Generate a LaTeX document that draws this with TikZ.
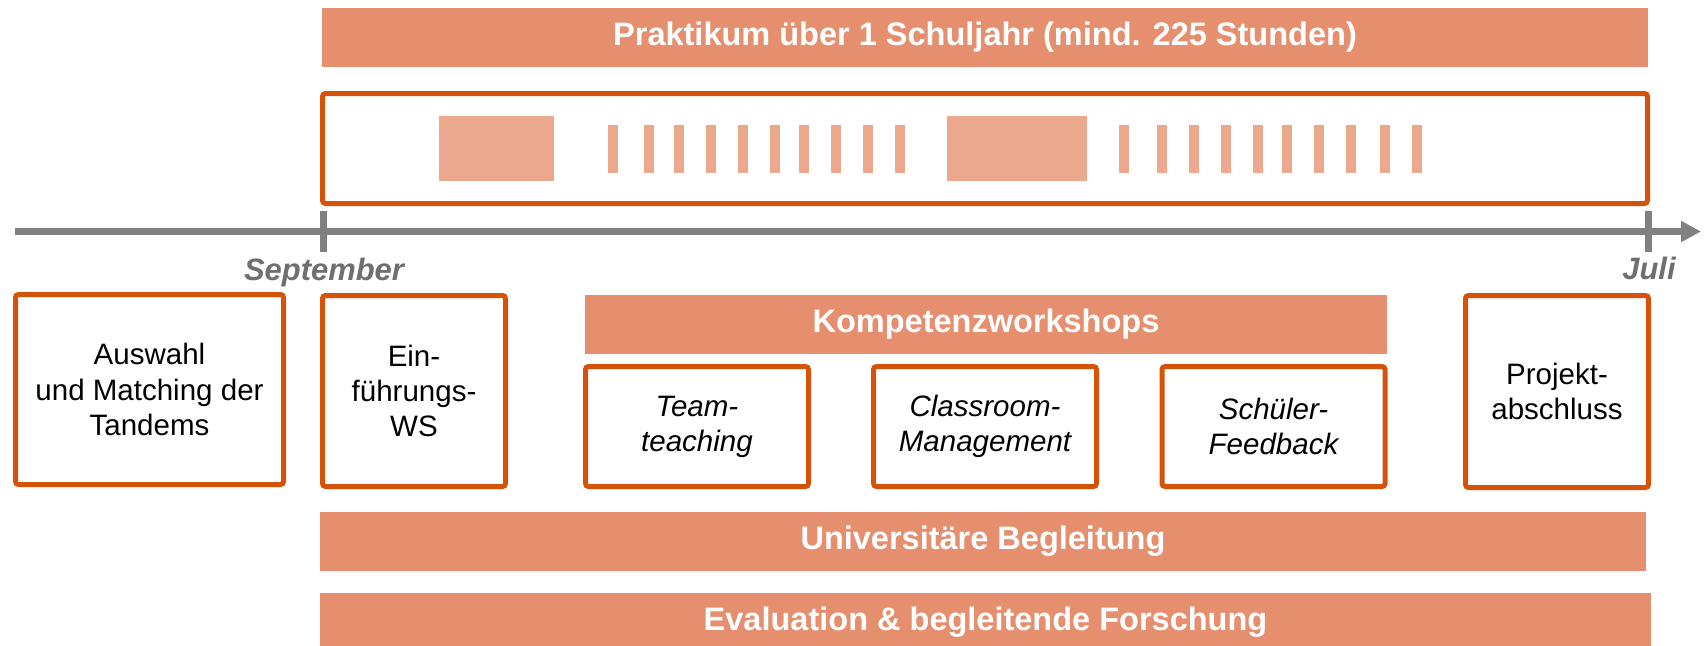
\documentclass[tikz,border=0pt]{standalone}
\usepackage{fontspec}
\setmainfont{Liberation Sans}
\usetikzlibrary{arrows.meta}
\definecolor{rust}{HTML}{D55308}
\definecolor{salmon}{HTML}{E58F6F}
\definecolor{peach}{HTML}{EBA88D}
\definecolor{axisgray}{HTML}{808080}
\definecolor{labelgray}{HTML}{6F6F6F}

\begin{document}
\begin{tikzpicture}[x=0.1mm, y=-0.1mm,
    phase/.style={draw=rust, line width=0.5mm, rounded corners=0.3mm, fill=white, align=center, inner sep=0pt, font=\fontsize{8.4pt}{10pt}\selectfont},
    wsbox/.style={phase, minimum width=22.3mm, minimum height=12mm, font=\fontsize{8.4pt}{10pt}\selectfont\itshape},
    band/.style={fill=salmon, text=white, inner sep=0pt, minimum height=5.9mm, font=\fontsize{9.25pt}{11pt}\selectfont\bfseries},
    slot/.style={fill=peach, inner sep=0pt, minimum height=4.8mm, minimum width=1mm},
    tick/.style={axisgray, line width=0.7mm},
    month/.style={text=labelgray, anchor=base, font=\fontsize{8.8pt}{10pt}\selectfont\bfseries\itshape}]
  \useasboundingbox (0,0) rectangle (1704,646);

  \node[band, minimum width=132.6mm] (praktikum) at (985,37.5) {Praktikum über 1 Schuljahr (mind. 225 Stunden)};
  \node[phase, minimum width=132.5mm, minimum height=11mm] (jahr) at (985,148.5) {};
  \node[slot, minimum width=11.5mm, minimum height=6.5mm] (blockA) at (496.5,148.5) {};
  \node[slot, minimum width=14mm, minimum height=6.5mm] (blockB) at (1017,148.5) {};
  \foreach \x in {613,649,679,711,743,775,804,836,868,900,1124,1162,1194,1226,1258,1287,1319,1351,1385,1417}
    \node[slot] (s\x) at (\x,149) {};

  \coordinate (axstart) at (15,231.5);
  \coordinate (axend) at (1701,231.5);
  \draw[tick, -{Triangle[length=2mm, width=2mm]}] (axstart) -- (axend);
  \coordinate (septop) at (323,211);
  \coordinate (sepbot) at (323,252);
  \coordinate (julitop) at (1648,211);
  \coordinate (julibot) at (1648,252);
  \draw[tick] (septop) -- (sepbot);
  \draw[tick] (julitop) -- (julibot);
  \node[month] (sep) at (324,280) {September};
  \node[month] (juli) at (1649,279) {Juli};

  \node[phase, minimum width=26.8mm, minimum height=19mm] (auswahl) at (149.5,389.5) {Auswahl\\und Matching der\\Tandems};
  \node[phase, minimum width=18.3mm, minimum height=19.1mm] (einf) at (414,391) {Ein-\\führungs-\\WS};
  \node[band, minimum width=80.2mm] (komp) at (986,324.5) {Kompetenzworkshops};
  \node[wsbox] (team) at (697,426.5) {Team-\\teaching};
  \node[wsbox] (classroom) at (985,426.5) {Classroom-\\Management};
  \node[wsbox] (feedback) at (1273.5,426.5) {Schüler-\\Feedback};
  \node[phase, minimum width=18.3mm, minimum height=19.2mm] (abschluss) at (1557,391.5) {Projekt-\\abschluss};
  \node[band, minimum width=132.6mm] (uni) at (983,541.5) {Universitäre Begleitung};
  \node[band, minimum width=133.1mm] (eval) at (985.5,622.5) {Evaluation \& begleitende Forschung};
\end{tikzpicture}
\end{document}
